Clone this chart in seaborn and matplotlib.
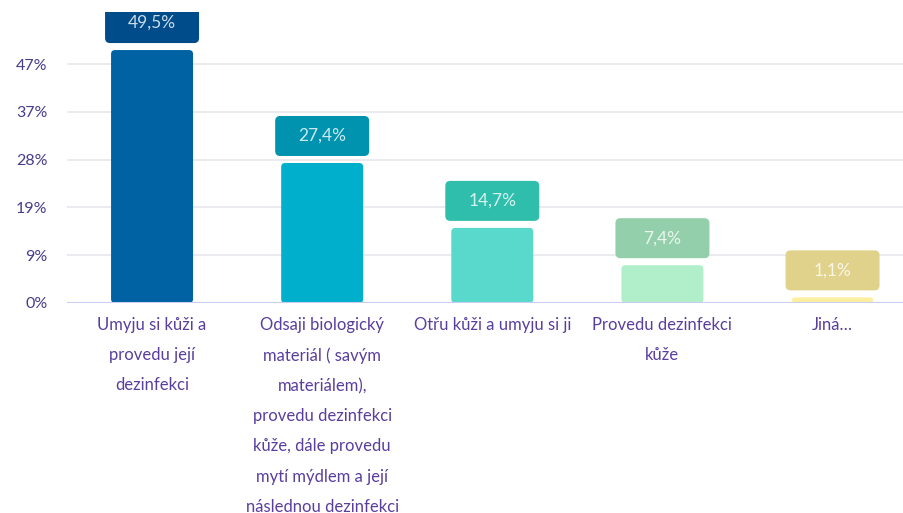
import matplotlib
matplotlib.use("Agg")
import matplotlib.pyplot as plt
import seaborn as sns
import pandas as pd
from matplotlib.patches import FancyBboxPatch

categories = [
    "Umyju si kůži a\nprovedu její\ndezinfekci",
    "Odsaji biologický\nmateriál ( savým\nmateriálem),\nprovedu dezinfekci\nkůže, dále provedu\nmytí mýdlem a její\nnáslednou dezinfekci",
    "Otřu kůži a umyju si ji",
    "Provedu dezinfekci\nkůže",
    "Jiná…",
]
values = [49.5, 27.4, 14.7, 7.4, 1.1]
value_labels = ["49,5%", "27,4%", "14,7%", "7,4%", "1,1%"]
ytick_values = [0, 9.35, 18.7, 28.05, 37.4, 46.75]
ytick_labels = ["0%", "9%", "19%", "28%", "37%", "47%"]

bar_colors = ["#0061A3", "#00AFCC", "#58D9CB", "#B1EFCA", "#FEEFA0"]
box_colors = ["#004B8A", "#0093AF", "#2FBDAC", "#93CFAA", "#E0D28A"]

sns.set_theme(style="white")
plt.rcParams["font.family"] = ["Lato", "DejaVu Sans"]

df = pd.DataFrame({"cat": categories, "val": values})

fig = plt.figure(figsize=(9.04, 5.13), dpi=100)
ax = fig.add_axes([67/904, 210/513, (904-67)/904, (303-12)/513])

sns.barplot(data=df, x="cat", y="val", hue="cat", palette=bar_colors,
            legend=False, width=0.482, ax=ax, saturation=1)

xlim = (-0.5, 4.42)
ylim = (0, 303/5.11 - 12/5.11)
ax.set_xlim(*xlim)
ax.set_ylim(*ylim)

# pixel scales
px_x = (xlim[1]-xlim[0]) / 837.0   # data units per px (x)
px_y = (ylim[1]-ylim[0]) / 291.0   # data units per px (y)
aspect = px_y / px_x

# Replace bars with rounded ones
for p, c in zip(list(ax.patches), bar_colors):
    x, y = p.get_x(), p.get_y()
    w, h = p.get_width(), p.get_height()
    p.set_visible(False)
    r = 4 * px_x
    fb = FancyBboxPatch((x, y), w, h, boxstyle=f"round,pad=0,rounding_size={r}",
                        mutation_aspect=aspect, facecolor=c, edgecolor="none",
                        zorder=3, clip_on=True)
    ax.add_patch(fb)

# Value label boxes
box_w = 94 * px_x
box_h = 40 * px_y
gap = 7 * px_y
for i, (v, lab, bc) in enumerate(zip(values, value_labels, box_colors)):
    bx = i - box_w / 2
    by = v + gap
    r = 5 * px_x
    fb = FancyBboxPatch((bx, by), box_w, box_h, boxstyle=f"round,pad=0,rounding_size={r}",
                        mutation_aspect=aspect, facecolor=bc, edgecolor="none",
                        zorder=4, clip_on=True)
    ax.add_patch(fb)
    ax.text(i, by + box_h / 2, lab, ha="center", va="center", color="white",
            alpha=0.8, fontsize=12.5, zorder=5, clip_on=True)

ax.set_yticks(ytick_values)
ax.set_yticklabels(ytick_labels)
for yv in ytick_values[1:]:
    ax.axhline(yv, color="#E8E8EC", lw=1.2, zorder=1)
ax.axhline(0, color="#C9CDEF", lw=1.5, zorder=6)

for s in ax.spines.values():
    s.set_visible(False)

ax.set_xlabel("")
ax.set_ylabel("")
ax.tick_params(axis="y", length=0, pad=14, labelsize=11.5, labelcolor="#4A3B8A")
ax.tick_params(axis="x", length=0, pad=10, labelsize=12, labelcolor="#5A3E9E")
for t in ax.get_xticklabels():
    t.set_linespacing(2.08)
    t.set_va("top")

fig.savefig("out.png", dpi=100, facecolor="white")
